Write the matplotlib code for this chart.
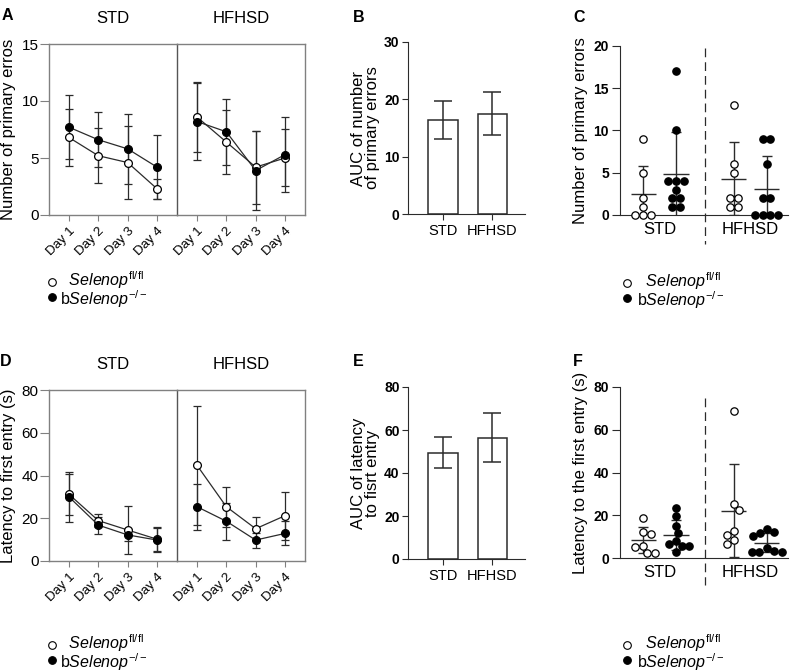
import numpy as np
import matplotlib
matplotlib.use("Agg")
import matplotlib.pyplot as plt
from matplotlib.lines import Line2D
from matplotlib.transforms import blended_transform_factory

plt.rcParams["font.family"] = ["Liberation Sans", "DejaVu Sans"]
plt.rcParams["mathtext.fontset"] = "custom"
plt.rcParams["mathtext.rm"] = "Liberation Sans"
plt.rcParams["mathtext.it"] = "Liberation Sans:italic"

W, H = 800, 671

days = ["Day 1", "Day 2", "Day 3", "Day 4"]
diets = ["STD", "HFHSD"]
lab_ctrl = "  $\\mathit{Selenop}^{\\mathrm{fl/fl}}$"
lab_ko = "b$\\mathit{Selenop}^{\\mathit{-/-}}$"

# A: number of primary errors per day (mean, SD)
err_std_ctrl = [6.8, 5.2, 4.6, 2.3]
err_std_ctrl_sd = [2.5, 2.4, 3.2, 0.9]
err_std_ko = [7.7, 6.6, 5.8, 4.2]
err_std_ko_sd = [2.8, 2.4, 3.1, 2.8]
err_hf_ctrl = [8.6, 6.4, 4.2, 5.0]
err_hf_ctrl_sd = [3.1, 2.8, 3.2, 2.5]
err_hf_ko = [8.2, 7.3, 3.9, 5.3]
err_hf_ko_sd = [3.4, 2.9, 3.5, 3.3]

# B: AUC of primary errors
auc_err = [16.4, 17.5]
auc_err_sd = [3.3, 3.8]

# C: individual primary errors
c_std_ctrl = [9, 5, 2, 1, 0, 0, 0]
c_std_ko = [17, 10, 4, 4, 4, 3, 2, 2, 1, 1]
c_hf_ctrl = [13, 6, 5, 2, 2, 1, 1]
c_hf_ko = [9, 9, 6, 2, 2, 0, 0, 0, 0]

# D: latency to first entry per day (mean, SD)
lat_std_ctrl = [31.2, 18.9, 14.5, 10.2]
lat_std_ctrl_sd = [9.5, 3.0, 11.4, 5.6]
lat_std_ko = [30.0, 16.8, 12.2, 9.8]
lat_std_ko_sd = [11.8, 4.0, 2.8, 5.8]
lat_hf_ctrl = [44.8, 25.4, 15.1, 21.2]
lat_hf_ctrl_sd = [27.9, 9.4, 5.3, 11.2]
lat_hf_ko = [25.4, 18.6, 9.8, 12.9]
lat_hf_ko_sd = [10.8, 8.7, 3.5, 5.6]

# E: AUC of latency
auc_lat = [49.5, 56.5]
auc_lat_sd = [7.3, 11.5]

# F: individual latency
f_std_ctrl = [18.8, 12.2, 11.4, 5.5, 5.2, 2.3, 2.3]
f_std_ko = [23.5, 19.5, 15, 11.5, 8, 6.5, 5.5, 5.5, 3]
f_hf_ctrl = [69, 25.2, 22.4, 12.7, 10.6, 8.6, 6.7]
f_hf_ko = [13.5, 12, 11.5, 10.5, 4.5, 3.5, 3, 3, 3]

GREY = "#808080"
DARK = "#2b2b2b"


def rect(x0, y_top, x1, y_bot):
    return [x0 / W, 1 - y_bot / H, (x1 - x0) / W, (y_bot - y_top) / H]


def add_legend(fig, x, y, mx):
    for i, fc in enumerate(["white", "black"]):
        fig.add_artist(Line2D([mx / W], [1 - (y + i * 15) / H], marker="o",
                              ms=5.5, mfc=fc, mec="black", mew=0.8, ls="none",
                              transform=fig.transFigure))
    fig.text(x / W, 1 - (y + 7.5) / H, lab_ctrl + "\n" + lab_ko, fontsize=11.5,
             va="center", ha="left", linespacing=0.8)


def day_panel(fig, top, bot, ylim, yticks, ylabel, ctrl, ctrl_sd, ko, ko_sd):
    axl = fig.add_axes(rect(49, top, 177, bot))
    axr = fig.add_axes(rect(177, top, 305, bot), sharey=axl)
    axr.patch.set_visible(False)
    x = np.arange(1, 5)
    for ax, k, name in [(axl, 0, "STD"), (axr, 1, "HFHSD")]:
        for m, s, fc in [(ctrl[k], ctrl_sd[k], "white"), (ko[k], ko_sd[k], "black")]:
            ax.errorbar(x, m, yerr=s, fmt="none", ecolor=DARK, elinewidth=0.9,
                        capsize=3.2, capthick=0.9, zorder=2)
            ax.plot(x, m, "-o", color=DARK, lw=0.9, ms=5.6, mfc=fc, mec="black",
                    mew=0.9, zorder=3)
        ax.set_xlim(0.32, 4.68)
        ax.set_xticks(x)
        ax.set_xticklabels(days, rotation=45, ha="right", rotation_mode="anchor",
                           fontsize=9.5)
        for sp in ax.spines.values():
            sp.set_color(GREY)
            sp.set_linewidth(1.0)
        ax.tick_params(axis="x", length=4, color=GREY, pad=3)
        ax.set_title(name, fontsize=12, pad=15)
    axl.spines["right"].set_color("#555555")
    axr.spines["left"].set_visible(False)
    axr.tick_params(axis="y", left=False, labelleft=False)
    axl.set_ylim(*ylim)
    axl.set_yticks(yticks)
    axl.tick_params(axis="y", length=6.5, color=GREY, labelsize=11, pad=1)
    axl.set_ylabel(ylabel, fontsize=12)
    axl.yaxis.set_label_coords(-0.26, 0.5)
    return axl, axr


def bar_panel(fig, top, bot, vals, sds, ylim, yticks, ylabel):
    ax = fig.add_axes(rect(408, top, 525, bot))
    ax.bar([0, 1], vals, width=0.6, color="white", edgecolor=DARK, lw=1.1,
           yerr=sds, capsize=6.5,
           error_kw=dict(elinewidth=1.1, capthick=1.1, ecolor=DARK))
    ax.set_xlim(-0.71, 1.66)
    ax.set_ylim(*ylim)
    ax.set_yticks(yticks)
    ax.set_xticks([0, 1])
    ax.set_xticklabels(diets, fontsize=10.5)
    for lbl in ax.get_yticklabels():
        lbl.set_fontweight("bold")
    ax.tick_params(axis="y", length=4, labelsize=10, color=DARK, pad=2)
    ax.tick_params(axis="x", length=4, color=DARK, pad=3)
    ax.spines[["top", "right"]].set_visible(False)
    for sp in ax.spines.values():
        sp.set_color(DARK)
    ax.set_ylabel(ylabel, fontsize=12, linespacing=0.95)
    ax.yaxis.set_label_coords(-0.24, 0.5)
    return ax


def swarm(ax, xc, vals, d):
    # greedy beeswarm in pixel space, isolated ties are centred afterwards
    pos = ax.get_position()
    x0, x1 = ax.get_xlim()
    y0, y1 = ax.get_ylim()
    xs = pos.width * W / (x1 - x0)
    ys = pos.height * H / (y1 - y0)
    v = np.sort(np.asarray(vals, float))[::-1]
    py = v * ys
    px = np.zeros(len(v))
    side = 1
    for i in range(len(v)):
        cands = [0.0]
        for j in range(i):
            dy = abs(py[i] - py[j])
            if dy < d:
                dx = np.sqrt(d * d - dy * dy)
                cands += [px[j] + dx, px[j] - dx]
        ok = [c for c in cands
              if all(np.hypot(c - px[j], py[i] - py[j]) >= d - 1e-6 for j in range(i))]
        ok.sort(key=lambda c: (round(abs(c), 6), -side * c))
        px[i] = ok[0]
        if px[i] != 0:
            side = -np.sign(px[i])
    for val in np.unique(v):
        idx = np.where(v == val)[0]
        if len(idx) < 2:
            continue
        moved = px.copy()
        moved[idx] -= px[idx].mean()
        others = [j for j in range(len(v)) if j not in idx]
        if all(np.hypot(moved[i] - px[j], py[i] - py[j]) >= d - 1e-6
               for i in idx for j in others):
            px = moved
    return xc + px / xs, v


def dot_panel(fig, top, bot, groups, ylim, yticks, ylabel, dash_top, dash_bot):
    ax = fig.add_axes(rect(620, top, 788, bot))
    ax.set_xlim(-0.7, 4.4)
    ax.set_ylim(*ylim)
    xpos = [0, 1, 2.75, 3.75]
    fcs = ["white", "black", "white", "black"]
    for xc, vals, fc in zip(xpos, groups, fcs):
        m = np.mean(vals)
        s = np.std(vals, ddof=1)
        ax.errorbar(xc, m, yerr=s, fmt="none", ecolor=DARK, elinewidth=1.0,
                    capsize=3.6, capthick=1.0, zorder=2)
        ax.hlines(m, xc - 0.38, xc + 0.38, color=DARK, lw=1.0, zorder=2)
        px, py = swarm(ax, xc, vals, 7.8)
        ax.plot(px, py, "o", ms=5.3, mfc=fc, mec="black", mew=0.9, ls="none",
                zorder=3, clip_on=False)
    tr = blended_transform_factory(ax.transData, ax.transAxes)
    ax.plot([1.875, 1.875], [dash_top, dash_bot], transform=tr, clip_on=False,
            color=DARK, lw=0.9, ls=(0, (7, 4)))
    ax.set_xticks([0.5, 3.25])
    ax.set_xticklabels(diets, fontsize=12)
    ax.tick_params(axis="x", length=0, pad=5)
    ax.set_yticks(yticks)
    for lbl in ax.get_yticklabels():
        lbl.set_fontweight("bold")
    ax.tick_params(axis="y", length=6, labelsize=10, color=DARK, pad=2)
    ax.spines[["top", "right"]].set_visible(False)
    for sp in ax.spines.values():
        sp.set_color(DARK)
    ax.set_ylabel(ylabel, fontsize=12)
    ax.yaxis.set_label_coords(-0.19, 0.5)
    return ax


fig = plt.figure(figsize=(W / 100, H / 100), dpi=100)

day_panel(fig, 44, 215, (0, 15), [0, 5, 10, 15], "Number of primary erros",
          [err_std_ctrl, err_hf_ctrl], [err_std_ctrl_sd, err_hf_ctrl_sd],
          [err_std_ko, err_hf_ko], [err_std_ko_sd, err_hf_ko_sd])
bar_panel(fig, 42, 214, auc_err, auc_err_sd, (0, 30), [0, 10, 20, 30],
          "AUC of number\nof primary errors")
dot_panel(fig, 45.7, 215, [c_std_ctrl, c_std_ko, c_hf_ctrl, c_hf_ko], (0, 20),
          [0, 5, 10, 15, 20], "Number of primary errors", 0.986, -0.17)

day_panel(fig, 390, 561, (0, 80), [0, 20, 40, 60, 80], "Latency to first entry (s)",
          [lat_std_ctrl, lat_hf_ctrl], [lat_std_ctrl_sd, lat_hf_ctrl_sd],
          [lat_std_ko, lat_hf_ko], [lat_std_ko_sd, lat_hf_ko_sd])
bar_panel(fig, 387, 559, auc_lat, auc_lat_sd, (0, 80), [0, 20, 40, 60, 80],
          "AUC of latency\nto fisrt entry")
dot_panel(fig, 387, 558, [f_std_ctrl, f_std_ko, f_hf_ctrl, f_hf_ko], (0, 80),
          [0, 20, 40, 60, 80], "Latency to the first entry (s)", 0.936, -0.16)

add_legend(fig, 60, 282, 52)
add_legend(fig, 637, 283, 627)
add_legend(fig, 60, 645, 52)
add_legend(fig, 637, 645, 627)

for letter, x, y in [("A", 2, 16), ("B", 353, 17), ("C", 573, 17),
                     ("D", 0, 362), ("E", 353, 362), ("F", 573, 361)]:
    fig.text(x / W, 1 - y / H, letter, fontsize=11.5, fontweight="bold",
             va="center", ha="left")

fig.savefig("out.png", dpi=100)
